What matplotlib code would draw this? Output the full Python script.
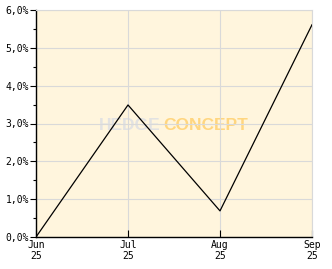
import matplotlib
matplotlib.use("Agg")
import matplotlib.pyplot as plt
from matplotlib.ticker import MultipleLocator, FuncFormatter
from matplotlib.transforms import blended_transform_factory, Affine2D

months = ["Jun\n25", "Jul\n25", "Aug\n25", "Sep\n25"]
values = [0.0, 3.49, 0.69, 5.61]

W, H = 332, 269
fig = plt.figure(figsize=(W / 100, H / 100), dpi=100)
fig.patch.set_facecolor("white")
l, r, t, b = 36, 312, 10, 237
ax = fig.add_axes([l / W, 1 - b / H, (r - l) / W, (b - t) / H])
ax.set_facecolor("#FFF5DD")

x = list(range(len(months)))
ax.plot(x, values, color="black", lw=0.9, zorder=3)
ax.set_xlim(0, len(months) - 1)
ax.set_ylim(0, 6)

ax.yaxis.set_major_locator(MultipleLocator(1))
ax.yaxis.set_minor_locator(MultipleLocator(0.5))
ax.yaxis.set_major_formatter(FuncFormatter(lambda v, p: f"{v:.1f}%".replace(".", ",")))
ax.set_xticks(x)
ax.set_xticklabels(months)

for lab in ax.get_xticklabels() + ax.get_yticklabels():
    lab.set_fontfamily("DejaVu Sans Mono")
    lab.set_fontsize(7)

ax.grid(True, which="major", color="#D9D9D9", lw=0.8, zorder=0)
ax.tick_params(axis="y", which="major", direction="out", length=4, width=0.8, pad=1, colors="black")
ax.tick_params(axis="y", which="minor", direction="out", length=2.5, width=0.8)
ax.tick_params(axis="x", which="major", direction="in", length=5, width=0.8, pad=2)

for s in ["top", "right"]:
    ax.spines[s].set_color("#D9D9D9")
    ax.spines[s].set_linewidth(0.8)
for s in ["left", "bottom"]:
    ax.spines[s].set_color("black")
    ax.spines[s].set_linewidth(1.0)

# watermark in axes, positioned by figure pixels (y from top)
def px(xp, yp):
    return xp / W, 1 - yp / H

ax.text(*px(99, 130), "HEDGE", transform=fig.transFigure, ha="left", va="baseline",
        fontsize=12.5, fontweight="bold", color="#E2E2E2",
        fontfamily="Liberation Sans", zorder=1)
ax.text(*px(163, 130), "CONCEPT", transform=fig.transFigure, ha="left", va="baseline",
        fontsize=12.5, fontweight="bold", color="#FFD680",
        fontfamily="Liberation Sans", zorder=1)
fig.savefig("out.png", dpi=100)
